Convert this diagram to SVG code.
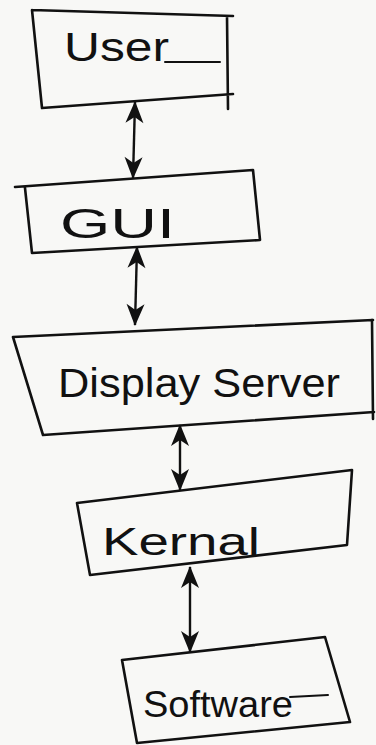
<svg xmlns="http://www.w3.org/2000/svg" width="376" height="745" viewBox="0 0 376 745">
<style>
.box{fill:none;stroke:#111;stroke-width:2.6;stroke-linejoin:round;stroke-linecap:round}
.lbl{font-family:"Liberation Sans",Arial,sans-serif;fill:#111;font-weight:normal}
.conn{stroke:#111;stroke-width:2.4;fill:none}
</style>
<defs>
<marker id="ah" viewBox="0 0 24 20" refX="22" refY="10" markerWidth="24" markerHeight="20" markerUnits="userSpaceOnUse" orient="auto-start-reverse">
<path d="M23,10 L1,1 L7,10 L1,19 Z" fill="#111"/>
</marker>
</defs>
<rect width="376" height="745" fill="#f8f8f6"/>
<g id="connectors">
<line class="conn" x1="133" y1="178" x2="135" y2="102" marker-start="url(#ah)" marker-end="url(#ah)"/>
<line class="conn" x1="135" y1="325" x2="137" y2="247" marker-start="url(#ah)" marker-end="url(#ah)"/>
<line class="conn" x1="180" y1="490" x2="180" y2="425" marker-start="url(#ah)" marker-end="url(#ah)"/>
<line class="conn" x1="190" y1="652" x2="190" y2="567" marker-start="url(#ah)" marker-end="url(#ah)"/>
</g>
<g id="user">
<path class="box" d="M32,10 L233,16 M227,16 L228,109 M42,108 L233,94 M32,10 L42,108"/>
<text class="lbl" x="64" y="61" font-size="40" textLength="105" lengthAdjust="spacingAndGlyphs">User</text>
<path class="box" d="M165,62 L220,62" style="stroke-width:2"/>
</g>
<g id="gui">
<path class="box" d="M15,187 L253,170 L260,240 L32,253 L25,188"/>
<text class="lbl" x="60" y="238" font-size="42" textLength="115" lengthAdjust="spacingAndGlyphs">GUI</text>
</g>
<g id="display-server">
<path class="box" d="M13,337 L373,320 M372,320 L373,419 M43,435 L374,412 M13,337 L43,435"/>
<text class="lbl" x="58" y="397" font-size="40" textLength="282" lengthAdjust="spacingAndGlyphs">Display Server</text>
</g>
<g id="kernal">
<path class="box" d="M77,503 L352,470 L347,545 L90,575 Z"/>
<text class="lbl" x="102" y="555" font-size="38" textLength="158" lengthAdjust="spacingAndGlyphs">Kernal</text>
</g>
<g id="software">
<path class="box" d="M122,660 L325,637 L350,722 L137,743 Z"/>
<text class="lbl" x="143" y="717" font-size="36" textLength="150" lengthAdjust="spacingAndGlyphs">Software</text>
<path class="box" d="M290,697 L328,695" style="stroke-width:2"/>
</g>
</svg>
